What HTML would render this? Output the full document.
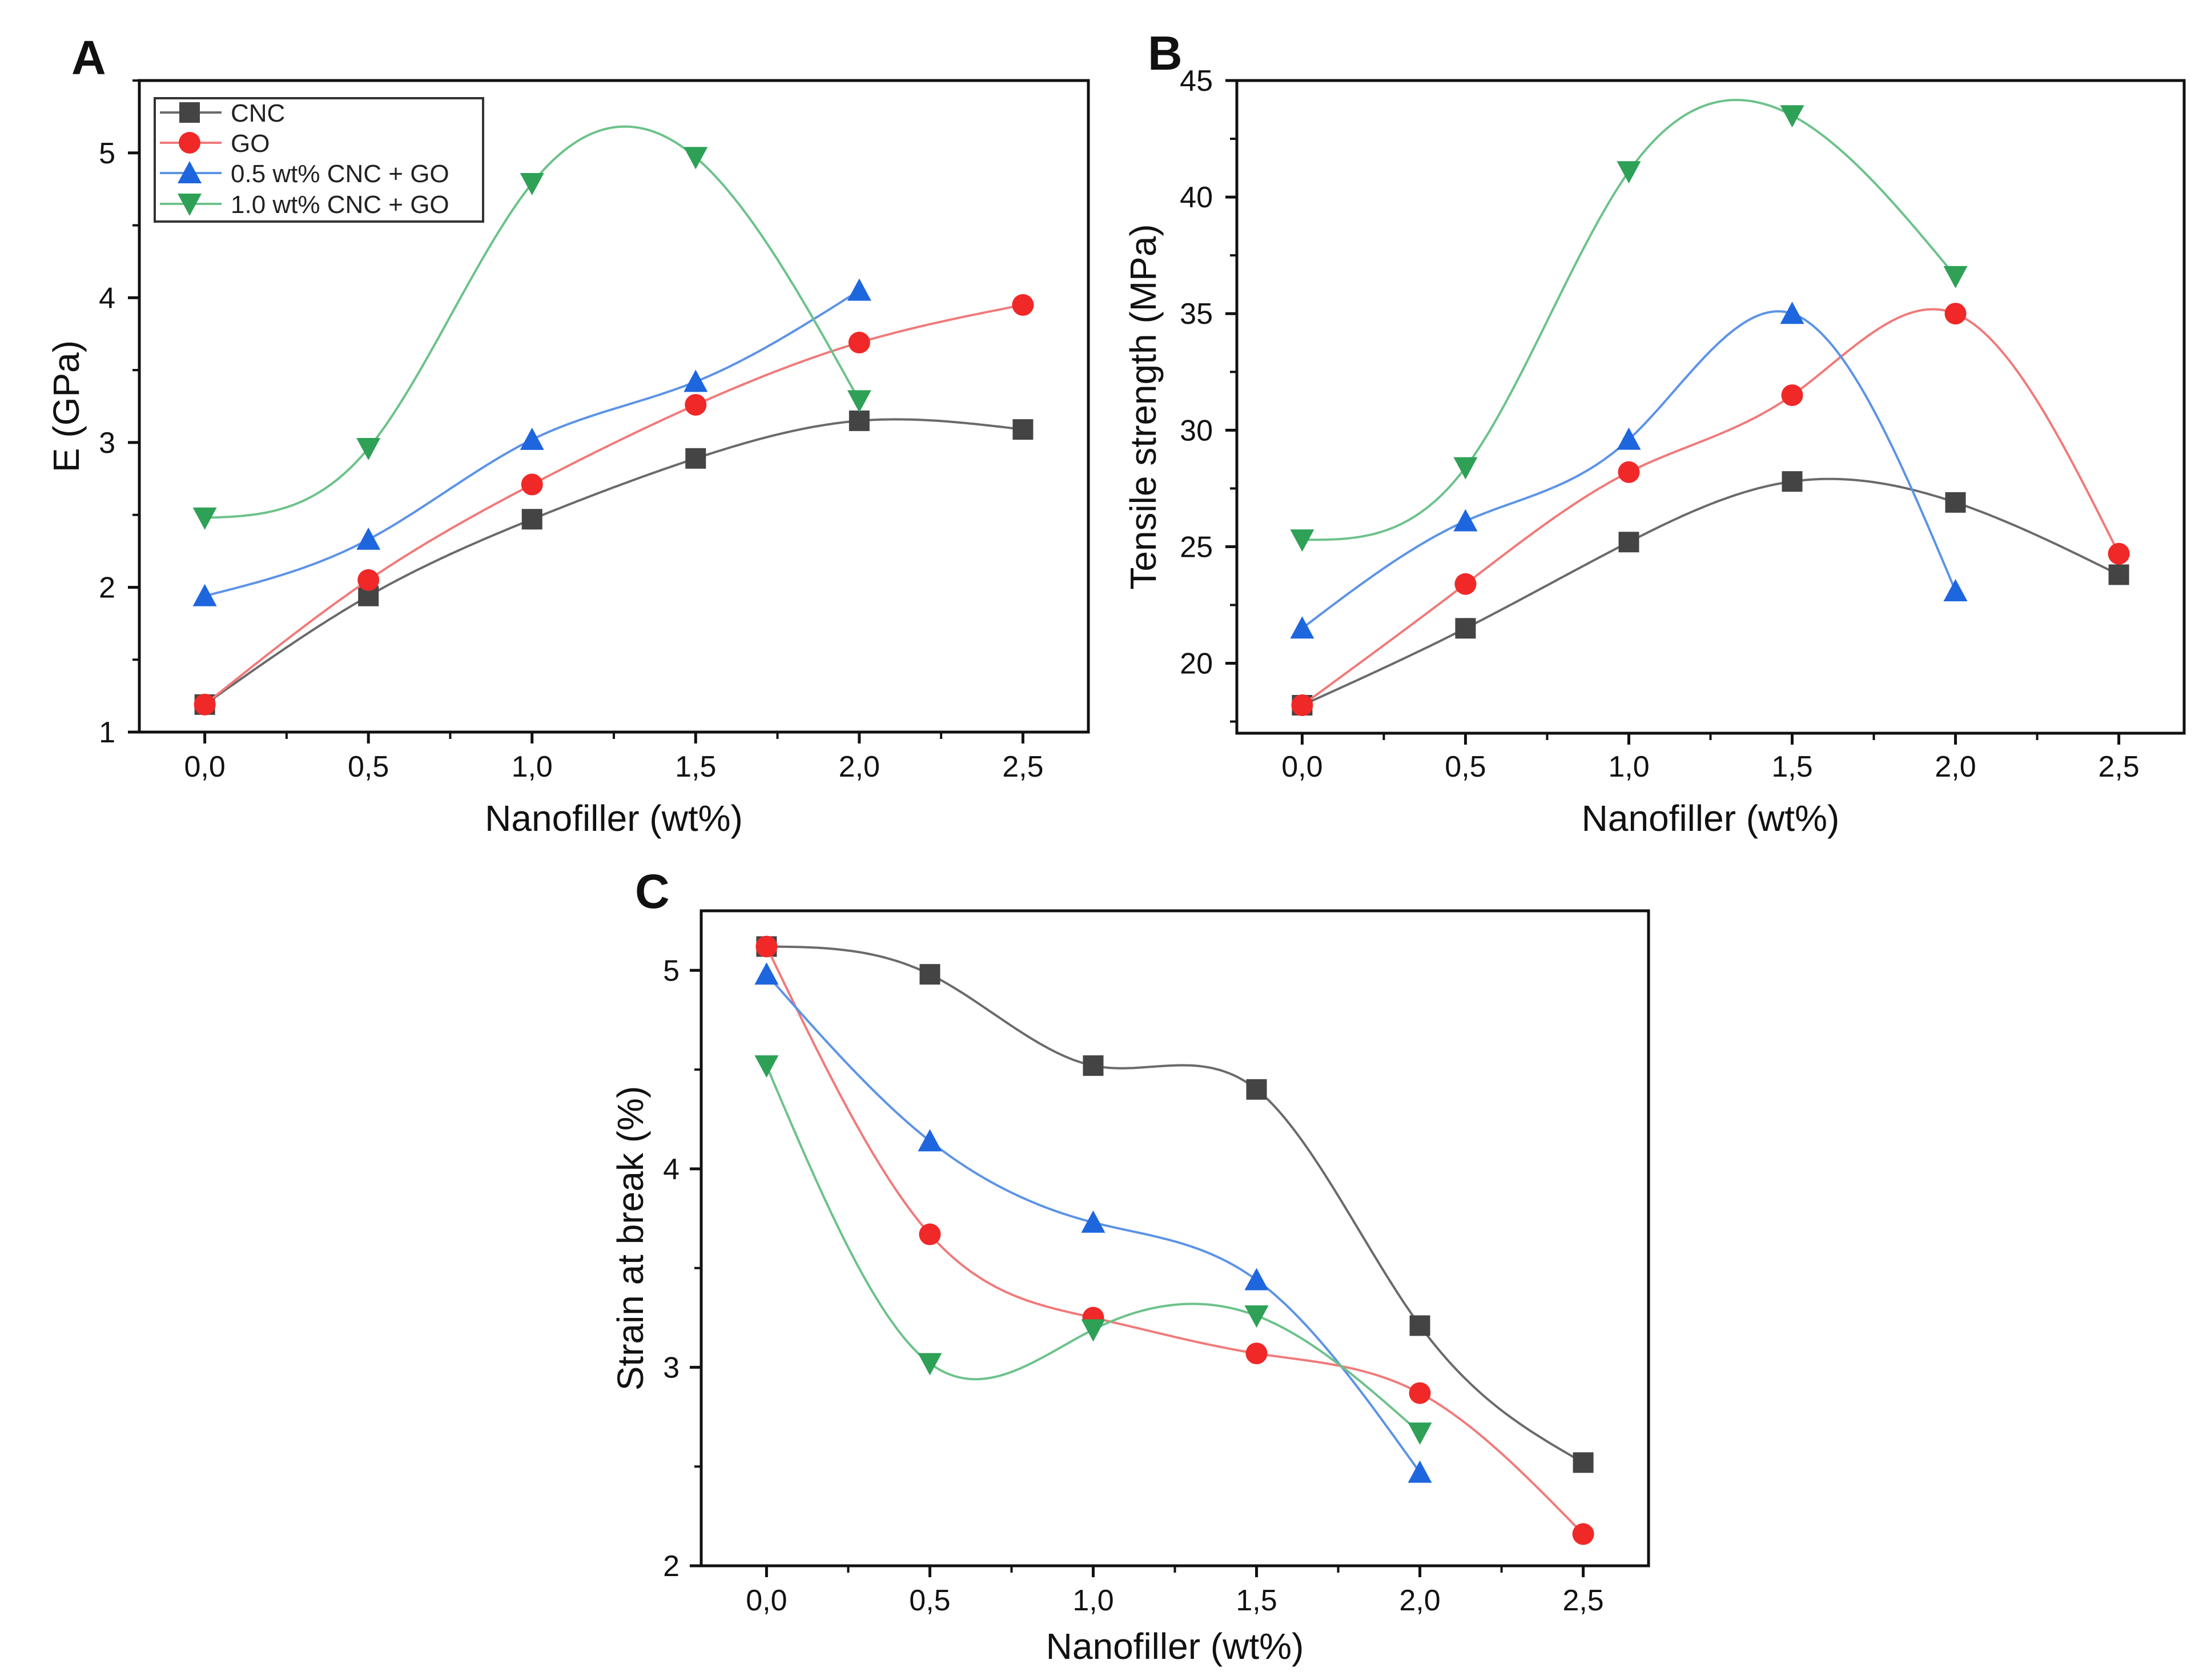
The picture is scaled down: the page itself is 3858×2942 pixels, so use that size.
<!DOCTYPE html>
<html><head><meta charset="utf-8"><style>
html,body{margin:0;padding:0;background:#fff;}
svg{display:block;font-family:"Liberation Sans",Arial,sans-serif;}
</style></head><body>
<svg id="fig" width="3858" height="2942" viewBox="0 0 3858 2942" xmlns="http://www.w3.org/2000/svg"></svg>
<script>
// ---- data ----
const xCats = [0, 0.5, 1.0, 1.5, 2.0, 2.5];
const xTickLabels = ["0,0","0,5","1,0","1,5","2,0","2,5"];
const seriesNames = ["CNC","GO","0.5 wt% CNC + GO","1.0 wt% CNC + GO"];
// Panel A: E (GPa)
const aCNC = [1.19, 1.94, 2.47, 2.89, 3.15, 3.09];
const aGO  = [1.19, 2.05, 2.71, 3.26, 3.69, 3.95];
const aMix05 = [1.94, 2.33, 3.02, 3.42, 4.05];
const aMix10 = [2.48, 2.96, 4.79, 4.97, 3.29];
const aYTicks = [1, 2, 3, 4, 5];
// Panel B: Tensile strength (MPa)
const bCNC = [18.2, 21.5, 25.2, 27.8, 26.9, 23.8];
const bGO  = [18.2, 23.4, 28.2, 31.5, 35.0, 24.7];
const bMix05 = [21.5, 26.1, 29.6, 35.0, 23.1];
const bMix10 = [25.3, 28.4, 41.1, 43.5, 36.6];
const bYTicks = [20, 25, 30, 35, 40, 45];
// Panel C: Strain at break (%)
const cCNC = [5.12, 4.98, 4.52, 4.40, 3.21, 2.52];
const cGO  = [5.12, 3.67, 3.25, 3.07, 2.87, 2.16];
const cMix05 = [4.98, 4.14, 3.73, 3.44, 2.47];
const cMix10 = [4.52, 3.02, 3.19, 3.26, 2.67];
const cYTicks = [2, 3, 4, 5];

const NS = "http://www.w3.org/2000/svg";
const svg = document.getElementById("fig");
const styles = [
  {mk:"#444444", ln:"#6a6a6a", shape:"square"},
  {mk:"#f02828", ln:"#f07a7a", shape:"circle"},
  {mk:"#1e66de", ln:"#5c93e6", shape:"up"},
  {mk:"#2ea157", ln:"#6cc28a", shape:"down"}
];
function el(tag, attrs, parent){
  const e = document.createElementNS(NS, tag);
  for (const k in attrs) e.setAttribute(k, attrs[k]);
  (parent||svg).appendChild(e);
  return e;
}
function spline(xs, ys){
  const n = xs.length;
  if (n < 3) return null;
  const h=[], al=[], l=[1], mu=[0], z=[0], c=new Array(n).fill(0), b=[], d=[];
  for(let i=0;i<n-1;i++) h.push(xs[i+1]-xs[i]);
  for(let i=1;i<n-1;i++) al[i]=3/h[i]*(ys[i+1]-ys[i])-3/h[i-1]*(ys[i]-ys[i-1]);
  for(let i=1;i<n-1;i++){ l[i]=2*(xs[i+1]-xs[i-1])-h[i-1]*mu[i-1]; mu[i]=h[i]/l[i]; z[i]=(al[i]-h[i-1]*z[i-1])/l[i]; }
  l[n-1]=1; z[n-1]=0; c[n-1]=0;
  for(let j=n-2;j>=0;j--){ c[j]=z[j]-mu[j]*c[j+1]; b[j]=(ys[j+1]-ys[j])/h[j]-h[j]*(c[j+1]+2*c[j])/3; d[j]=(c[j+1]-c[j])/(3*h[j]); }
  const pts=[];
  for(let j=0;j<n-1;j++){
    for(let k=0;k<40;k++){ const t=h[j]*k/40; pts.push([xs[j]+t, ys[j]+b[j]*t+c[j]*t*t+d[j]*t*t*t]); }
  }
  pts.push([xs[n-1], ys[n-1]]);
  return pts;
}
function marker(g, cx, cy, s, color, name){
  let m;
  const r = 18;
  if (s==="square") m = el("rect",{x:cx-r,y:cy-r,width:2*r,height:2*r,fill:color},g);
  else if (s==="circle") m = el("circle",{cx:cx,cy:cy,r:r+1,fill:color},g);
  else if (s==="up") m = el("polygon",{points:`${cx},${cy-r-3} ${cx+r+3},${cy+r} ${cx-r-3},${cy+r}`,fill:color},g);
  else m = el("polygon",{points:`${cx-r-3},${cy-r} ${cx+r+3},${cy-r} ${cx},${cy+r+3}`,fill:color},g);
  
  
  return m;
}
function panel(cfg){
  const g = el("g",{});
  
  
  const {L,R,T,B,y0,y1,x0,x1} = cfg;
  const X = v => L + (v-x0)/(x1-x0)*(R-L);
  const Y = v => B - (v-y0)/(y1-y0)*(B-T);
  // frame
  const fr = el("rect",{x:L,y:T,width:R-L,height:B-T,fill:"none",stroke:"#111",'stroke-width':5},g);
  
  
  // x ticks
  const xt = el("g",{},g);
  
  
  for(let i=0;i<xCats.length;i++){
    const x = X(xCats[i]);
    el("line",{x1:x,y1:B,x2:x,y2:B+20,stroke:"#111",'stroke-width':5},xt);
    const t = el("text",{x:x,y:cfg.xLabY,'font-size':52,'text-anchor':'middle',fill:'#111'},xt);
    t.textContent = xTickLabels[i];
    
    
  }
  for(let v=-0.25; v<=x1; v+=0.5){ if(v<x0) continue; const x=X(v); el("line",{x1:x,y1:B,x2:x,y2:B+12,stroke:"#111",'stroke-width':4},xt); }
  // y ticks
  const yt = el("g",{},g);
  
  
  const step = cfg.yTicks[1]-cfg.yTicks[0];
  for(const v of cfg.yTicks){
    const y = Y(v);
    el("line",{x1:L,y1:y,x2:L-20,y2:y,stroke:"#111",'stroke-width':5},yt);
    const t = el("text",{x:cfg.yLabX,y:y+18,'font-size':52,'text-anchor':'end',fill:'#111'},yt);
    t.textContent = String(v);
    
    
  }
  for(let v=cfg.yTicks[0]-step/2; v<=y1+1e-9; v+=step){ if(v<y0) continue; const y=Y(v); el("line",{x1:L,y1:y,x2:L-12,y2:y,stroke:"#111",'stroke-width':4},yt); }
  // titles
  const xtitle = el("text",{x:(L+R)/2,y:cfg.xTitleY,'font-size':64,'text-anchor':'middle',fill:'#111'},g);
  xtitle.textContent = "Nanofiller (wt%)";
  
  
  const ytitle = el("text",{x:0,y:0,'font-size':64,'text-anchor':'middle',fill:'#111',transform:`translate(${cfg.yTitleX},${(T+B)/2}) rotate(-90)`},g);
  ytitle.textContent = cfg.yTitle;
  
  
  const pl = el("text",{x:cfg.labX,y:cfg.labY,'font-size':84,fill:'#111','font-weight':'bold'},g);
  pl.textContent = cfg.letter;
  
  
  // series
  cfg.series.forEach((ys, si) => {
    const st = styles[si];
    const sg = el("g",{},g);
    
    
    const xs = xCats.slice(0, ys.length);
    const pts = spline(xs, ys);
    const d = pts.map((p,i)=>(i?"L":"M")+X(p[0]).toFixed(1)+","+Y(p[1]).toFixed(1)).join(" ");
    const line = el("path",{d:d,fill:"none",stroke:st.ln,'stroke-width':4},sg);
    
    
    ys.forEach((v,i)=> marker(sg, X(xs[i]), Y(v), st.shape, st.mk, 'data-point'));
  });
  return g;
}
panel({name:"panel-a",letter:"A",labX:125,labY:130,L:244,R:1906,T:141,B:1282,x0:-0.2,x1:2.7,y0:1,y1:5.5,
  yTicks:aYTicks,yLabX:202,xLabY:1360,xTitleY:1455,yTitleX:138,yTitle:"E (GPa)",
  series:[aCNC,aGO,aMix05,aMix10]});
panel({name:"panel-b",letter:"B",labX:2010,labY:122,L:2166,R:3825,T:141,B:1284,x0:-0.2,x1:2.7,y0:17,y1:45,
  yTicks:bYTicks,yLabX:2124,xLabY:1360,xTitleY:1455,yTitleX:2024,yTitle:"Tensile strength (MPa)",
  series:[bCNC,bGO,bMix05,bMix10]});
panel({name:"panel-c",letter:"C",labX:1112,labY:1590,L:1228,R:2887,T:1595,B:2742,x0:-0.2,x1:2.7,y0:2,y1:5.3,
  yTicks:cYTicks,yLabX:1190,xLabY:2820,xTitleY:2905,yTitleX:1126,yTitle:"Strain at break (%)",
  series:[cCNC,cGO,cMix05,cMix10]});
// legend (panel A)
const lg = el("g",{});


el("rect",{x:271,y:172,width:575,height:216,fill:"#fff",stroke:"#333",'stroke-width':4},lg);
const legY = [197,250,303,357];
seriesNames.forEach((nm,i)=>{
  const e = el("g",{},lg);
  
  
  el("line",{x1:280,y1:legY[i],x2:388,y2:legY[i],stroke:styles[i].ln,'stroke-width':4},e);
  marker(e,332,legY[i],styles[i].shape,styles[i].mk,'legend-marker');
  const t = el("text",{x:404,y:legY[i]+16,'font-size':44,fill:'#222'},e);
  t.textContent = nm;
  
  
});
</script>
</body></html>
